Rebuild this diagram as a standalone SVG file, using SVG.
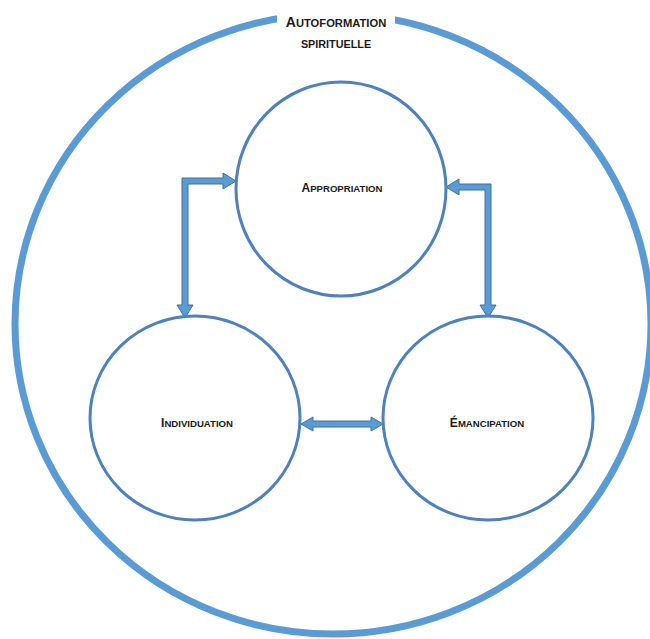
<svg xmlns="http://www.w3.org/2000/svg" width="650" height="639" viewBox="0 0 650 639">
<style>
.outer{fill:none;stroke:#5b9bd5;stroke-width:7}
.node{fill:#ffffff;stroke:#4f81bd;stroke-width:3}
.arrow{fill:#5b9bd5;stroke:#41719c;stroke-width:1;stroke-linejoin:miter}
.lbl{font-family:"Liberation Sans",Arial,sans-serif;font-weight:bold;fill:#1a1a1a;text-anchor:middle}
.big{font-size:12px}
.sm{font-size:9.6px}
</style>
<rect width="650" height="639" fill="#ffffff"/>
<g id="outer">
<ellipse class="outer" cx="333" cy="324" rx="318" ry="310"/>
<rect x="277" y="8" width="118" height="50" fill="#ffffff"/>
<text class="lbl" x="336" y="27"><tspan style="font-size:14px">A</tspan><tspan style="font-size:11.2px">UTOFORMATION</tspan></text>
<text class="lbl" x="336" y="48" style="font-size:10.8px">SPIRITUELLE</text>
</g>
<g id="connectors">
<polygon class="arrow" points="185,318 193,305 188,305 188,184 223,184 223,189 236,181 223,173 223,178 182,178 182,305 177,305"/>
<polygon class="arrow" points="446,187 459,179 459,184 491,184 491,305 496,305 488,318 480,305 485,305 485,190 459,190 459,195"/>
<polygon class="arrow" points="301,424 313,417 313,421 371,421 371,417 383,424 371,431 371,427 313,427 313,431"/>
</g>
<g id="appropriation">
<ellipse class="node" cx="341" cy="189" rx="105" ry="107"/>
<text class="lbl" x="342" y="192"><tspan class="big">A</tspan><tspan class="sm">PPROPRIATION</tspan></text>
</g>
<g id="individuation">
<ellipse class="node" cx="195" cy="418" rx="105" ry="102"/>
<text class="lbl" x="197" y="427"><tspan class="big">I</tspan><tspan class="sm">NDIVIDUATION</tspan></text>
</g>
<g id="emancipation">
<ellipse class="node" cx="488" cy="418" rx="105" ry="102"/>
<text class="lbl" x="487" y="427"><tspan class="big">É</tspan><tspan class="sm">MANCIPATION</tspan></text>
</g>
</svg>
